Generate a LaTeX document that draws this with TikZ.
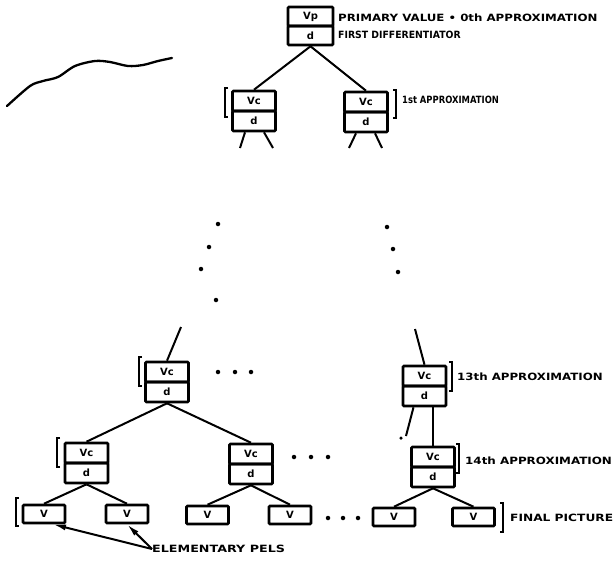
\documentclass[tikz,border=0pt]{standalone}
\usepackage{fontspec}
\usepackage{graphicx}
\setmainfont{DejaVu Sans}
\usetikzlibrary{arrows.meta,calc}
\newcommand{\twocell}[5]{%
  \node[cell] (#1) at (#2,#3+10) {#4};
  \node[cell] (#1d) at (#2,#3+30) {#5};}
\newcommand{\lbrk}[3]{\draw[brk] (#1+3,#2) -- (#1,#2) -- (#1,#3) -- (#1+3,#3);}
\newcommand{\rbrk}[3]{\draw[brk] (#1-3,#2) -- (#1,#2) -- (#1,#3) -- (#1-3,#3);}
\newcommand{\wide}[2]{\scalebox{#1}[1]{#2}}
\begin{document}
\begin{tikzpicture}[x=1pt,y=-1pt,
  cell/.style={draw, line width=2.6pt, rounded corners=1pt, minimum width=43pt,
    minimum height=20pt, inner sep=0pt, font=\fontsize{10}{10}\selectfont\bfseries},
  pcell/.style={cell, minimum width=45pt, minimum height=19pt},
  leaf/.style={cell, minimum width=42pt, minimum height=18pt},
  conn/.style={line width=2pt},
  brk/.style={line width=1.7pt},
  lbl/.style={anchor=base west, inner sep=0pt, font=\fontsize{10}{10}\selectfont\bfseries},
  dotn/.style={circle, fill, inner sep=0pt, minimum size=4.5pt},
  arr/.style={line width=2pt, -{Latex[length=13pt,width=6pt]}}]
\useasboundingbox (0,0) rectangle (613,563);

% scan squiggle
\draw[line width=2.3pt, line cap=round] plot[smooth] coordinates {(7,106) (30,86) (43,81) (58,77) (75,66) (95,61) (110,62) (128,66) (143,65) (158,61) (172,58)};

% top node
\node[pcell] (P) at (310.5,16.5) {Vp};
\node[pcell] (Pd) at (310.5,35.5) {d};
\node[lbl] (t0) at (338,21.6) {\wide{1.18}{PRIMARY VALUE • 0th APPROXIMATION}};
\node[lbl] (t1) at (338,38.6) {\wide{0.93}{FIRST DIFFERENTIATOR}};

% first approximation
\twocell{A}{254}{91}{Vc}{d}
\twocell{B}{366}{92}{Vc}{d}
\lbrk{225}{88}{117}
\rbrk{396}{90}{118}
\node[lbl] (t2) at (402,103.6) {\wide{0.84}{1st APPROXIMATION}};
\draw[conn] (Pd.south) -- (A.north);
\draw[conn] (Pd.south) -- (B.north);
\coordinate (la1) at (240,148);
\coordinate (la2) at (273,148);
\coordinate (lb1) at (349,148);
\coordinate (lb2) at (382,148);
\draw[conn] ($(Ad.south)+(-9,0)$) -- (la1);
\draw[conn] ($(Ad.south)+(10,0)$) -- (la2);
\draw[conn] ($(Bd.south)+(-10,0)$) -- (lb1);
\draw[conn] ($(Bd.south)+(9,0)$) -- (lb2);

% vertical dots
\foreach \p [count=\i] in {(218,224),(209,247),(201,269),(216,300),(387,227),(393,249),(398,272)}
  \node[dotn] (vd\i) at \p {};

% 13th approximation
\twocell{M}{167}{362}{Vc}{d}
\twocell{N}{424.5}{366}{Vc}{d}
\lbrk{139}{357}{386}
\rbrk{452}{362}{391}
\node[lbl] (t3) at (457,380.6) {\wide{1.18}{13th APPROXIMATION}};
\coordinate (cm) at (181,327);
\coordinate (cn) at (415,329);
\draw[conn] (cm) -- (M.north);
\draw[conn] (cn) -- (N.north);
\foreach \x [count=\i] in {218,235,251} \node[dotn] (hd\i) at (\x,372) {};

% 14th approximation
\twocell{Ka}{86.5}{443}{Vc}{d}
\twocell{Kb}{251}{444}{Vc}{d}
\twocell{Kc}{433}{447}{Vc}{d}
\lbrk{57}{438}{467}
\rbrk{459}{444}{473}
\node[lbl] (t4) at (465,464.6) {\wide{1.19}{14th APPROXIMATION}};
\draw[conn] (Md.south) -- (Ka.north);
\draw[conn] (Md.south) -- (Kb.north);
\coordinate (cx) at (406,436);
\draw[conn] ($(Nd.south)+(-11,0)$) -- (cx);
\node[dotn, minimum size=3.5pt] (sd) at (401,438) {};
\draw[conn, line width=1.4pt] (Nd.south -| Kc.north) -- (Kc.north);
\foreach \x [count=\i] in {294,311,328} \node[dotn] (md\i) at (\x,457) {};

% leaves
\node[leaf] (V1) at (44,514) {V};
\node[leaf] (V2) at (127,514) {V};
\node[leaf] (V3) at (207.5,515) {V};
\node[leaf] (V4) at (290,515) {V};
\node[leaf] (V5) at (394,517) {V};
\node[leaf] (V6) at (473.5,517) {V};
\lbrk{16}{498}{526}
\rbrk{503}{503}{532}
\node[lbl] (t5) at (510,521.6) {\wide{1.22}{FINAL PICTURE}};
\foreach \x [count=\i] in {328,343,358} \node[dotn] (ld\i) at (\x,518) {};
\draw[conn] (Kad.south) -- (V1.north);
\draw[conn] (Kad.south) -- (V2.north);
\draw[conn] (Kbd.south) -- (V3.north);
\draw[conn] (Kbd.south) -- (V4.north);
\draw[conn] (Kcd.south) -- (V5.north);
\draw[conn] (Kcd.south) -- (V6.north);

% elementary pels
\node[lbl, anchor=west] (E) at (152,549) {\wide{1.27}{ELEMENTARY PELS}};
\draw[arr] (E.west) -- ($(V1.south)+(9,0)$);
\draw[arr] (E.west) -- (V2.south);
\end{tikzpicture}
\end{document}
